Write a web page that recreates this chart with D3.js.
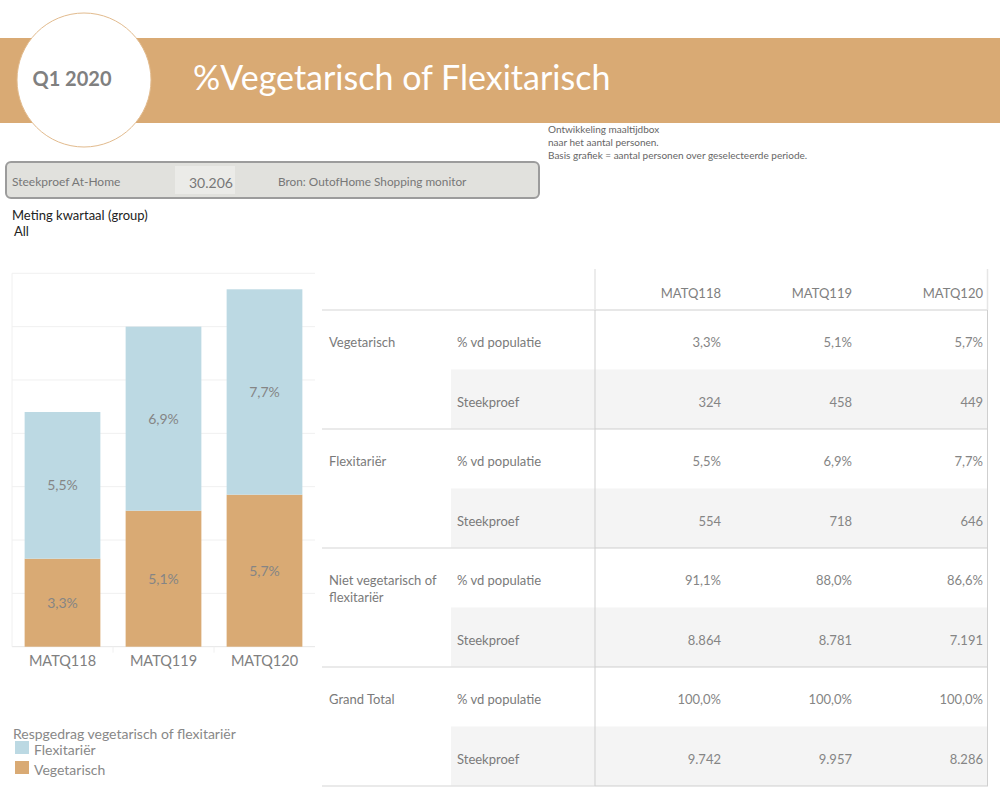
<!DOCTYPE html>
<html>
<head>
<meta charset="utf-8">
<script src="https://cdn.jsdelivr.net/npm/d3@7"></script>
<style>
  body { margin: 0; background: #fff; }
  svg { display: block; font-family: Lato, "Open Sans", sans-serif; }
</style>
</head>
<body>
<svg id="chart" width="1000" height="800"></svg>
<script>
// data
const periods = ["MATQ118", "MATQ119", "MATQ120"];
const vegPct = [3.3, 5.1, 5.7];
const flexPct = [5.5, 6.9, 7.7];
const vegN = [324, 458, 449];
const flexN = [554, 718, 646];
const nietPct = [91.1, 88.0, 86.6];
const nietN = [8864, 8781, 7191];
const totalPct = [100.0, 100.0, 100.0];
const totalN = [9742, 9957, 8286];
const yTicks = [0, 2, 4, 6, 8, 10, 12, 14];

const tan = "#d9aa74";
const blue = "#bcd9e3";

const nl = d3.formatLocale({decimal: ",", thousands: ".", grouping: [3], currency: ["€", ""]});
const pct = v => nl.format(".1f")(v) + "%";
const num = nl.format(",d");

const svg = d3.select("#chart");

// header banner
svg.append("rect").attr("x", 0).attr("y", 38).attr("width", 1000).attr("height", 85).attr("fill", tan);
svg.append("circle").attr("cx", 84).attr("cy", 80).attr("r", 67)
    .attr("fill", "#fff").attr("stroke", "#e2bb8e").attr("stroke-width", 1);
svg.append("text").attr("x", 72).attr("y", 86).attr("text-anchor", "middle")
    .attr("font-size", 20).attr("font-weight", "bold").attr("fill", "#808080").text("Q1 2020");
svg.append("text").attr("x", 193).attr("y", 90)
    .attr("font-size", 34).attr("fill", "#fff").text("%Vegetarisch of Flexitarisch");

// notes
const notes = ["Ontwikkeling maaltijdbox", "naar het aantal personen.", "Basis grafiek = aantal personen over geselecteerde periode."];
svg.append("g").selectAll("text").data(notes).join("text")
    .attr("x", 548).attr("y", (d, i) => 133 + i * 13)
    .attr("font-size", 10).attr("fill", "#666").text(d => d);

// sample box
svg.append("rect").attr("x", 6).attr("y", 162).attr("width", 533).attr("height", 36).attr("rx", 5)
    .attr("fill", "#e1e1dd").attr("stroke", "#9c9c9c").attr("stroke-width", 2);
svg.append("rect").attr("x", 175).attr("y", 166).attr("width", 60).attr("height", 28).attr("fill", "#ebebe8");
svg.append("text").attr("x", 12).attr("y", 186).attr("font-size", 12).attr("fill", "#777").text("Steekproef At-Home");
svg.append("text").attr("x", 189).attr("y", 188).attr("font-size", 14).attr("fill", "#777").text("30.206");
svg.append("text").attr("x", 278).attr("y", 186).attr("font-size", 11.8).attr("fill", "#777").text("Bron: OutofHome Shopping monitor");

svg.append("text").attr("x", 12).attr("y", 220).attr("font-size", 13).attr("fill", "#222").text("Meting kwartaal (group)");
svg.append("text").attr("x", 14).attr("y", 236).attr("font-size", 13).attr("fill", "#222").text("All");

// stacked bar chart
const x = d3.scaleBand().domain(periods).range([12, 315]).paddingInner(0.25).paddingOuter(0.125);
const y = d3.scaleLinear().domain([0, 14]).range([646.7, 273.3]);

const grid = svg.append("g");
grid.selectAll("line").data(yTicks).join("line")
    .attr("x1", 12).attr("x2", 315).attr("y1", d => y(d)).attr("y2", d => y(d))
    .attr("stroke", d => d === 0 ? "#e6e6e6" : "#f0f0f0").attr("stroke-width", 1);
grid.append("line").attr("x1", 12).attr("x2", 12).attr("y1", y(14)).attr("y2", y(0))
    .attr("stroke", "#f0f0f0");
// little separators under the baseline
grid.selectAll("line.sep").data(periods.slice(1)).join("line").attr("class", "sep")
    .attr("x1", d => x(d) - x.step() * x.paddingInner() / 2)
    .attr("x2", d => x(d) - x.step() * x.paddingInner() / 2)
    .attr("y1", y(0)).attr("y2", y(0) + 6).attr("stroke", "#f0f0f0");

const stackRows = periods.map((p, i) => ({period: p, Vegetarisch: vegPct[i], Flexitariër: flexPct[i]}));
const series = d3.stack().keys(["Vegetarisch", "Flexitariër"])(stackRows);
const colors = {"Vegetarisch": tan, "Flexitariër": blue};

const bars = svg.append("g");
series.forEach(s => {
  bars.append("g").attr("fill", colors[s.key]).selectAll("rect").data(s).join("rect")
      .attr("x", d => x(d.data.period)).attr("width", x.bandwidth())
      .attr("y", d => y(d[1])).attr("height", d => y(d[0]) - y(d[1]));
  bars.append("g").selectAll("text").data(s).join("text")
      .attr("x", d => x(d.data.period) + x.bandwidth() / 2)
      .attr("y", d => (y(d[0]) + y(d[1])) / 2 + 5)
      .attr("text-anchor", "middle").attr("font-size", 14).attr("fill", "#858585")
      .text(d => pct(d.data[s.key]));
});

svg.append("g").selectAll("text").data(periods).join("text")
    .attr("x", d => x(d) + x.bandwidth() / 2).attr("y", 666)
    .attr("text-anchor", "middle").attr("font-size", 14.5).attr("fill", "#808080").text(d => d);

// legend
svg.append("text").attr("x", 13).attr("y", 739).attr("font-size", 14).attr("fill", "#888")
    .text("Respgedrag vegetarisch of flexitariër");
const legend = svg.append("g").selectAll("g").data(["Flexitariër", "Vegetarisch"]).join("g")
    .attr("transform", (d, i) => `translate(15,${741 + i * 20})`);
legend.append("rect").attr("width", 14).attr("height", 13).attr("fill", d => colors[d]);
legend.append("text").attr("x", 19).attr("y", 14).attr("font-size", 14).attr("fill", "#888").text(d => d);

// crosstab
const tx = d3.scaleBand().domain(periods).range([595, 988]);
const rowH = 59.5;
const tableTop = 310;
const blocks = [
  {name: ["Vegetarisch"], pct: vegPct, n: vegN},
  {name: ["Flexitariër"], pct: flexPct, n: flexN},
  {name: ["Niet vegetarisch of", "flexitariër"], pct: nietPct, n: nietN},
  {name: ["Grand Total"], pct: totalPct, n: totalN}
];

const table = svg.append("g");
blocks.forEach((b, i) => {
  table.append("rect").attr("x", 451).attr("y", tableTop + (2 * i + 1) * rowH)
      .attr("width", 987 - 451).attr("height", rowH).attr("fill", "#f4f4f4");
});

// header
table.selectAll("text.head").data(periods).join("text").attr("class", "head")
    .attr("x", d => tx(d) + tx.bandwidth() - 5).attr("y", 298)
    .attr("text-anchor", "end").attr("font-size", 13).attr("fill", "#808080").text(d => d);

// rules
const ruleYs = [tableTop].concat(blocks.map((b, i) => tableTop + (i + 1) * 2 * rowH));
ruleYs.forEach(yy => {
  table.append("line").attr("x1", 322).attr("x2", 595).attr("y1", yy).attr("y2", yy)
      .attr("stroke", "#e3e3e3").attr("stroke-width", 1.5);
  table.append("line").attr("x1", 595).attr("x2", 988).attr("y1", yy).attr("y2", yy)
      .attr("stroke", "#cfcfcf").attr("stroke-width", 1);
});
[595, 987.5].forEach(xx => {
  table.append("line").attr("x1", xx).attr("x2", xx).attr("y1", 269).attr("y2", tableTop)
      .attr("stroke", "#e6e6e6").attr("stroke-width", 1.5);
  table.append("line").attr("x1", xx).attr("x2", xx).attr("y1", tableTop).attr("y2", tableTop + 8 * rowH)
      .attr("stroke", "#cfcfcf").attr("stroke-width", 1);
});

blocks.forEach((b, i) => {
  const y0 = tableTop + 2 * i * rowH;
  table.append("text").attr("x", 329).attr("y", y0 + 37).attr("font-size", 13).attr("fill", "#7a7a7a")
      .selectAll("tspan").data(b.name).join("tspan")
      .attr("x", 329).attr("dy", (d, j) => j ? 17 : 0).text(d => d);
  const rows = [{label: "% vd populatie", vals: b.pct.map(pct)}, {label: "Steekproef", vals: b.n.map(num)}];
  rows.forEach((r, k) => {
    const yy = y0 + k * rowH + 37;
    table.append("text").attr("x", 457).attr("y", yy).attr("font-size", 13).attr("fill", "#7a7a7a").text(r.label);
    table.append("g").selectAll("text").data(periods).join("text")
        .attr("x", d => tx(d) + tx.bandwidth() - 5).attr("y", yy)
        .attr("text-anchor", "end").attr("font-size", 13).attr("fill", "#858585")
        .text((d, j) => r.vals[j]);
  });
});
</script>
</body>
</html>
